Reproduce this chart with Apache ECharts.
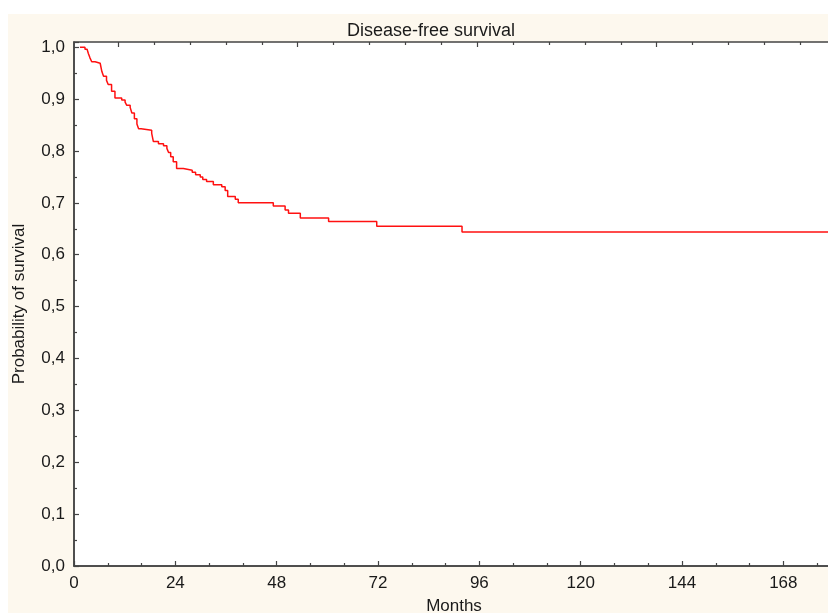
<!DOCTYPE html>
<html lang="en">
<head>
  <meta charset="UTF-8">
  <title>Disease-free survival</title>
  <script src="https://cdn.jsdelivr.net/npm/echarts@6/dist/echarts.min.js"></script>
  <style>
    html, body { margin: 0; padding: 0; background: #fff; }
    #main {
      width: 828px; height: 613px;
      /* white strips top and left, cream panel behind the chart */
      background:
        linear-gradient(#fff, #fff) 0 0 / 100% 14px no-repeat,
        linear-gradient(#fff, #fff) 0 0 / 8px 100% no-repeat,
        #fdf8ee;
    }
  </style>
</head>
<body>
<div id="main"></div>
<script>
  // Kaplan-Meier steps: month of each drop and survival after it
  var months = [1.4, 2.6, 3.1, 3.4, 3.8, 4.2, 5.0, 6.2, 6.6, 7.0, 7.7, 8.1, 8.9, 9.7,
    11.3, 12.1, 12.5, 13.3, 13.7, 14.3, 14.9, 15.3, 15.9, 18.4, 18.8, 20.0, 21.2, 22.0,
    22.4, 22.9, 23.5, 24.3, 25.9, 28.0, 28.8, 29.9, 30.5, 31.4, 33.0, 35.0, 35.8, 36.4,
    38.2, 38.9, 47.2, 50.0, 50.8, 53.6, 60.3, 71.7, 91.9, 180];
  var survival = [1.000, 0.996, 0.993, 0.988, 0.979, 0.972, 0.969, 0.967, 0.953, 0.944,
    0.936, 0.928, 0.915, 0.902, 0.898, 0.894, 0.888, 0.884, 0.873, 0.862, 0.852, 0.843,
    0.840, 0.834, 0.818, 0.814, 0.810, 0.805, 0.797, 0.789, 0.779, 0.766, 0.763, 0.759,
    0.754, 0.750, 0.745, 0.741, 0.735, 0.731, 0.724, 0.712, 0.707, 0.700, 0.694, 0.686,
    0.680, 0.671, 0.664, 0.655, 0.644, 0.644];

  var font = "'Liberation Sans', Arial, sans-serif";
  var ink = '#1a1a1a';
  var axisCol = '#444';

  var points = [];
  for (var i = 0; i < months.length; i++) {
    points.push([months[i], survival[i]]);
  }

  var myChart = echarts.init(document.getElementById('main'));

  var option = {
    animation: false,
    backgroundColor: 'transparent',
    title: {
      text: 'Disease-free survival',
      left: 342,
      top: 17,
      textStyle: { fontFamily: font, fontSize: 18, fontWeight: 'normal', color: ink }
    },
    grid: [
      { left: 74, top: 42, width: 760, height: 524, show: true, outerBoundsMode: 'none',
        containLabel: false, backgroundColor: '#fff', borderWidth: 1.5, borderColor: axisCol },
      { left: 118.2, top: 42, width: 715.8, height: 524, show: false, outerBoundsMode: 'none',
        containLabel: false }
    ],
    xAxis: [
      {
        type: 'value', gridIndex: 0, position: 'bottom',
        min: 0, max: 180, interval: 24,
        name: 'Months', nameLocation: 'middle', nameGap: 32,
        nameTextStyle: { fontFamily: font, fontSize: 17, color: ink },
        axisLine: { onZero: false, lineStyle: { color: axisCol, width: 1.5 } },
        axisTick: { inside: true, length: 5, lineStyle: { color: axisCol, width: 1.2 } },
        minorTick: { show: true, splitNumber: 3, length: 3, lineStyle: { color: axisCol, width: 1.2 } },
        splitLine: { show: false },
        axisLabel: {
          margin: 9, fontFamily: font, fontSize: 17, color: ink,
          formatter: function (v) { return v % 24 === 0 ? String(v) : ''; }
        }
      },
      {
        // top edge ticks
        type: 'value', gridIndex: 1, position: 'top',
        min: 0, max: 19.94, interval: 5,
        axisLine: { show: false, onZero: false },
        axisTick: { inside: true, length: 5, lineStyle: { color: axisCol, width: 1.2 } },
        minorTick: { show: true, splitNumber: 5, length: 3, lineStyle: { color: axisCol, width: 1.2 } },
        splitLine: { show: false },
        axisLabel: { show: false }
      }
    ],
    yAxis: [
      {
        type: 'value', gridIndex: 0,
        min: 0, max: 1.01, interval: 0.1,
        name: 'Probability of survival', nameLocation: 'middle', nameGap: 46, nameRotate: 90,
        nameTextStyle: { fontFamily: font, fontSize: 17, color: ink },
        axisLine: { show: true, onZero: false, lineStyle: { color: axisCol, width: 1.5 } },
        axisTick: { show: true, inside: true, length: 5, lineStyle: { color: axisCol, width: 1.2 } },
        minorTick: { show: true, splitNumber: 2, length: 3, lineStyle: { color: axisCol, width: 1.2 } },
        splitLine: { show: false },
        axisLabel: {
          margin: 9, fontFamily: font, fontSize: 17, color: ink,
          formatter: function (v) {
            var k = Math.round(v * 10);
            if (Math.abs(v * 10 - k) > 1e-6) return '';
            return (k / 10).toFixed(1).replace('.', ',');
          }
        }
      },
      { type: 'value', gridIndex: 1, show: false, min: 0, max: 1 }
    ],
    series: [
      {
        type: 'line',
        xAxisIndex: 0, yAxisIndex: 0,
        step: 'end',
        data: points,
        showSymbol: false,
        symbol: 'none',
        lineStyle: { color: '#ff1010', width: 1.5 }
      }
    ]
  };

  myChart.setOption(option);
</script>
</body>
</html>
